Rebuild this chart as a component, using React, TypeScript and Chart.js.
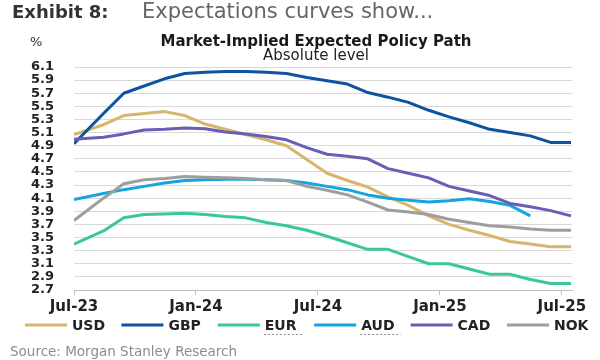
import { useEffect, useRef } from 'react';
import { Chart, registerables } from 'chart.js';

Chart.register(...registerables);

// ---- data (months after 1 Jul 2023, policy rate in %) ----
const months = [0, 1.45, 2.45, 3.45, 4.45, 5.45, 6.45, 7.45, 8.45, 9.45, 10.45, 11.45, 12.45, 13.45, 14.45, 15.45, 16.45, 17.45, 18.45, 19.45, 20.45, 21.45, 22.45, 23.45, 24.45];
const xTickLabels = ['Jul-23', 'Jan-24', 'Jul-24', 'Jan-25', 'Jul-25'];
const seriesNames = ['USD', 'GBP', 'EUR', 'AUD', 'CAD', 'NOK'];
const usd = [5.07, 5.22, 5.36, 5.39, 5.42, 5.36, 5.23, 5.15, 5.07, 4.99, 4.9, 4.69, 4.48, 4.37, 4.27, 4.12, 3.99, 3.83, 3.7, 3.61, 3.53, 3.44, 3.4, 3.36, 3.36];
const gbp = [4.93, 5.39, 5.7, 5.81, 5.92, 6.0, 6.02, 6.03, 6.03, 6.02, 6.0, 5.94, 5.89, 5.84, 5.71, 5.64, 5.56, 5.44, 5.34, 5.25, 5.15, 5.1, 5.05, 4.95, 4.95];
const eur = [3.4, 3.6, 3.8, 3.85, 3.86, 3.87, 3.85, 3.82, 3.8, 3.73, 3.68, 3.61, 3.52, 3.42, 3.32, 3.32, 3.21, 3.1, 3.1, 3.02, 2.94, 2.94, 2.86, 2.8, 2.8];
const aud = [4.08, 4.17, 4.23, 4.28, 4.33, 4.37, 4.38, 4.39, 4.39, 4.38, 4.37, 4.33, 4.28, 4.23, 4.15, 4.1, 4.07, 4.04, 4.06, 4.09, 4.05, 3.99, 3.83];
const cad = [5.0, 5.03, 5.08, 5.14, 5.15, 5.17, 5.16, 5.11, 5.08, 5.04, 4.99, 4.87, 4.77, 4.74, 4.7, 4.55, 4.48, 4.41, 4.28, 4.21, 4.14, 4.02, 3.97, 3.91, 3.83];
const nok = [3.76, 4.1, 4.32, 4.38, 4.4, 4.43, 4.42, 4.41, 4.4, 4.38, 4.37, 4.28, 4.22, 4.15, 4.04, 3.92, 3.89, 3.85, 3.78, 3.73, 3.68, 3.66, 3.63, 3.61, 3.61];
const seriesValues = [usd, gbp, eur, aud, cad, nok];
const seriesColors = ['#D6B56C', '#0E539F', '#3CC69B', '#14A4DF', '#6A5DB6', '#9E9E9E'];

const headerBold = 'Exhibit 8:';
const headerText = 'Expectations curves show...';
const chartTitle = 'Market-Implied Expected Policy Path';
const chartSubtitle = 'Absolute level';
const unitLabel = '%';
const sourceText = 'Source: Morgan Stanley Research';
const underlinedLabels = ['EUR', 'AUD'];

const FONT = "'DejaVu Sans', 'Liberation Sans', sans-serif";

const decorPlugin = {
  id: 'decor',
  afterDraw(chart: any) {
    const ctx = chart.ctx as CanvasRenderingContext2D;
    ctx.save();
    ctx.textBaseline = 'middle';
    ctx.textAlign = 'left';
    // header
    ctx.fillStyle = '#333333';
    ctx.font = `bold 18px ${FONT}`;
    ctx.fillText(headerBold, 12, 13);
    ctx.fillStyle = '#666666';
    ctx.font = `21px ${FONT}`;
    ctx.fillText(headerText, 142, 13);
    // unit
    ctx.fillStyle = '#333333';
    ctx.font = `13px ${FONT}`;
    ctx.fillText(unitLabel, 30, 43);
    // chart title + subtitle
    ctx.textAlign = 'center';
    ctx.fillStyle = '#1a1a1a';
    ctx.font = `bold 15px ${FONT}`;
    ctx.fillText(chartTitle, 316, 42.5);
    ctx.fillStyle = '#222222';
    ctx.font = `15px ${FONT}`;
    ctx.fillText(chartSubtitle, 316, 56.5);
    ctx.textAlign = 'left';
    // legend
    chart.data.datasets.forEach((ds: any, i: number) => {
      const x0 = 25 + i * 96.4;
      const y = 325;
      ctx.strokeStyle = ds.borderColor;
      ctx.lineWidth = 3;
      ctx.lineCap = 'butt';
      ctx.beginPath();
      ctx.moveTo(x0, y);
      ctx.lineTo(x0 + 42, y);
      ctx.stroke();
      ctx.fillStyle = '#222222';
      ctx.font = `bold 14px ${FONT}`;
      ctx.fillText(ds.label, x0 + 47, y + 1);
      if (underlinedLabels.includes(ds.label)) {
        const w = ctx.measureText(ds.label).width;
        ctx.strokeStyle = '#8a8a8a';
        ctx.lineWidth = 1;
        ctx.setLineDash([2, 2]);
        ctx.beginPath();
        ctx.moveTo(x0 + 46, y + 9.5);
        ctx.lineTo(x0 + 47 + w + 6, y + 9.5);
        ctx.stroke();
        ctx.setLineDash([]);
      }
    });
    // source
    ctx.fillStyle = '#8c8c8c';
    ctx.font = `13.5px ${FONT}`;
    ctx.fillText(sourceText, 10, 352);
    ctx.restore();
  },
};

export default function App() {
  const canvasRef = useRef<HTMLCanvasElement | null>(null);

  useEffect(() => {
    const canvas = canvasRef.current;
    if (!canvas) return;
    const datasets = seriesNames.map((name, i) => ({
      label: name,
      data: seriesValues[i].map((v, j) => ({ x: months[j], y: v })),
      borderColor: seriesColors[i],
      backgroundColor: seriesColors[i],
      borderWidth: 3,
      pointRadius: 0,
      pointHoverRadius: 0,
      tension: 0,
      borderJoinStyle: 'round' as const,
      fill: false,
      order: seriesNames.length - i,
    }));

    const chart = new Chart(canvas, {
      type: 'line',
      data: { datasets },
      plugins: [decorPlugin],
      options: {
        responsive: false,
        animation: false,
        devicePixelRatio: 1,
        layout: { padding: { left: 0, right: 28, top: 67, bottom: 40 } },
        font: { family: FONT },
        plugins: {
          legend: { display: false },
          tooltip: { enabled: false },
          title: { display: false },
          subtitle: { display: false },
        },
        scales: {
          x: {
            type: 'linear',
            min: 0,
            max: 24.5,
            afterFit: (s: any) => { s.height = 30; },
            grid: { display: true, drawOnChartArea: false, drawTicks: true, tickLength: 5, color: '#bfbfbf' },
            border: { display: true, color: '#bfbfbf', width: 1 },
            ticks: {
              stepSize: 6,
              includeBounds: false,
              autoSkip: false,
              maxRotation: 0,
              padding: 3,
              color: '#222222',
              font: { family: FONT, size: 15, weight: 'bold' },
              callback: (v: any) => xTickLabels[Math.round(Number(v) / 6)] ?? '',
            },
          },
          y: {
            type: 'linear',
            min: 2.7,
            max: 6.1,
            afterFit: (s: any) => { s.width = 74; },
            grid: { color: '#d9d9d9', lineWidth: 1, drawTicks: false },
            border: { display: false },
            ticks: {
              stepSize: 0.2,
              autoSkip: false,
              padding: 20,
              color: '#222222',
              font: { family: FONT, size: 13, weight: 'bold' },
              callback: (v: any) => Number(v).toFixed(1),
            },
          },
        },
      },
    });
    return () => chart.destroy();
  }, []);

  return (
    <div style={{ position: 'fixed', left: 0, top: 0, width: 600, height: 360, background: '#ffffff' }}>
      <canvas ref={canvasRef} width={600} height={360} style={{ display: 'block' }} />
    </div>
  );
}
